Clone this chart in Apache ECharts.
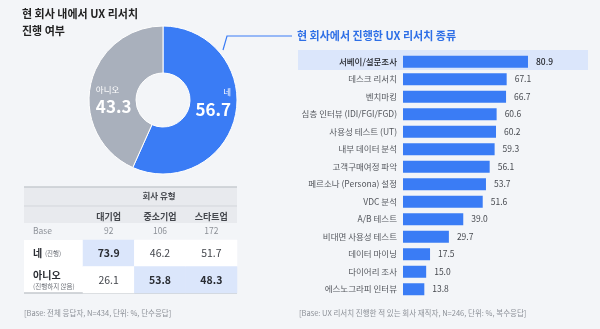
<!DOCTYPE html>
<html><head><meta charset="utf-8">
<script src="https://cdn.jsdelivr.net/npm/echarts@6/dist/echarts.min.js"></script>
<style>html,body{margin:0;padding:0;background:#f3f5f8;}#c{width:600px;height:329px;}</style>
</head><body><div id="c"></div>
<script>
var pieNames = ['네', '아니오'];
var pieValues = [56.7, 43.3];
var barCategories = ['서베이/설문조사','데스크 리서치','벤치마킹','심층 인터뷰 (IDI/FGI/FGD)','사용성 테스트 (UT)','내부 데이터 분석','고객구매여정 파악','페르소나 (Persona) 설정','VDC 분석','A/B 테스트','비대면 사용성 테스트','데이터 마이닝','다이어리 조사','에스노그라피 인터뷰'];
var barValues = [80.9, 67.1, 66.7, 60.6, 60.2, 59.3, 56.1, 53.7, 51.6, 39.0, 29.7, 17.5, 15.0, 13.8];
var tableColumns = ['대기업', '중소기업', '스타트업'];
var tableBase = [92, 106, 172];
var tableYes = [73.9, 46.2, 51.7];
var tableNo = [26.1, 53.8, 48.3];

var FONT = '"Noto Sans CJK KR", "Noto Sans", sans-serif';
var BLUE = '#3a7cf5';
var HL = '#dbe6fb';

var heatData = [];
tableColumns.forEach(function (c, i) {
  [tableYes, tableNo].forEach(function (arr, r) {
    var hi = arr[i] > pieValues[r];
    heatData.push({
      value: [i, r, arr[i]],
      itemStyle: { color: hi ? HL : '#ffffff' },
      label: { fontWeight: hi ? 'bold' : 'normal', color: hi ? '#2a2d33' : '#44474d' }
    });
  });
});

var tblLeft = 83, tblRight = 237, colW = (tblRight - tblLeft) / 3;
var graphics = [
  { type: 'rect', shape: { x: 298, y: 50, width: 290, height: 20 }, style: { fill: HL }, z: -10 },
  { type: 'rect', shape: { x: 24, y: 187, width: 213, height: 36 }, style: { fill: '#e8eaee' }, z: -10 },
  { type: 'rect', shape: { x: 24, y: 240, width: 213, height: 53 }, style: { fill: '#ffffff' }, z: -10 },
  { type: 'line', shape: { x1: 24, y1: 187, x2: 237, y2: 187 }, style: { stroke: '#c7cbd1', lineWidth: 1.5 } },
  { type: 'line', shape: { x1: 24, y1: 206, x2: 237, y2: 206 }, style: { stroke: '#d3d6db', lineWidth: 1 } },
  { type: 'line', shape: { x1: 24, y1: 293, x2: 237, y2: 293 }, style: { stroke: '#c4c8ce', lineWidth: 1.5 } },
  { type: 'polyline', shape: { points: [[223, 50], [227, 36], [292, 36]] }, style: { stroke: BLUE, lineWidth: 1.2, fill: null } },
  { type: 'text', x: 22, y: 14, style: { text: '현 회사 내에서 UX 리서치', font: 'bold 11px ' + FONT, fill: '#222', textVerticalAlign: 'middle' } },
  { type: 'text', x: 22, y: 31, style: { text: '진행 여부', font: 'bold 11px ' + FONT, fill: '#222', textVerticalAlign: 'middle' } },
  { type: 'text', x: 297, y: 36, style: { text: '현 회사에서 진행한 UX 리서치 종류', font: 'bold 11px ' + FONT, fill: '#2e6fe6', textVerticalAlign: 'middle' } },
  { type: 'text', x: 159, y: 196, style: { text: '회사 유형', font: 'bold 8.5px ' + FONT, fill: '#474a50', textAlign: 'center', textVerticalAlign: 'middle' } },
  { type: 'text', x: 33, y: 231, style: { text: 'Base', font: '8.5px ' + FONT, fill: '#8d9198', textVerticalAlign: 'middle' } },
  { type: 'text', x: 24, y: 313, style: { text: '[Base: 전체 응답자, N=434, 단위: %, 단수응답]', font: '7.5px ' + FONT, fill: '#8d9198', textVerticalAlign: 'middle' } },
  { type: 'text', x: 299, y: 313, style: { text: '[Base: UX 리서치 진행한 적 있는 회사 재직자, N=246, 단위: %, 복수응답]', font: '7.5px ' + FONT, fill: '#8d9198', textVerticalAlign: 'middle' } }
];
tableBase.forEach(function (b, i) {
  graphics.push({ type: 'text', x: tblLeft + colW * (i + 0.5), y: 231, style: { text: String(b), font: '8.5px ' + FONT, fill: '#8d9198', textAlign: 'center', textVerticalAlign: 'middle' } });
});

var chart = echarts.init(document.getElementById('c'), null, { renderer: 'canvas' });
chart.setOption({
  backgroundColor: '#f3f5f8',
  animation: false,
  textStyle: { fontFamily: FONT },
  graphic: graphics,
  grid: [
    { left: 403, top: 53, width: 154.5, height: 245 },
    { left: tblLeft, top: 240, width: tblRight - tblLeft, height: 53 }
  ],
  xAxis: [
    { type: 'value', gridIndex: 0, min: 0, max: 100, show: false },
    { type: 'category', gridIndex: 1, data: tableColumns, position: 'top',
      axisLine: { show: false }, axisTick: { show: false }, splitLine: { show: false },
      axisLabel: { margin: 19, fontSize: 9, fontWeight: 'bold', color: '#44474d' } }
  ],
  yAxis: [
    { type: 'category', gridIndex: 0, data: barCategories, inverse: true,
      axisLine: { show: false }, axisTick: { show: false },
      axisLabel: { margin: 6, fontSize: 8.5, color: '#55585e',
        formatter: function (v, i) { return i === 0 ? '{f|' + v + '}' : v; },
        rich: { f: { fontSize: 8.5, color: '#1f2126', fontWeight: 500 } } } },
    { type: 'category', gridIndex: 1, data: ['네', '아니오'], inverse: true,
      axisLine: { show: false }, axisTick: { show: false },
      axisLabel: { align: 'left', margin: 50,
        formatter: function (v, i) { return i === 0 ? '{a|네} {s|(진행)}' : '{a|아니오}\n{s|(진행하지 않음)}'; },
        rich: { a: { fontSize: 10, fontWeight: 'bold', color: '#2a2d33', lineHeight: 13 },
                s: { fontSize: 6.5, color: '#6a6e75', lineHeight: 10 } } } }
  ],
  series: [
    { type: 'pie', center: [163, 100], radius: [27, 74], startAngle: 90, clockwise: true,
      itemStyle: { borderColor: '#ffffff', borderWidth: 1 },
      label: { position: 'inside', color: '#fff',
        formatter: function (p) {
          return p.dataIndex === 0 ? '{n|' + p.name + '}\n{v|' + p.value + '}' : '{n2|' + p.name + '}\n{v|' + p.value + '}';
        },
        rich: { n: { fontSize: 8.5, color: '#fff', align: 'right', lineHeight: 14 },
                n2: { fontSize: 8.5, color: '#fff', align: 'left', lineHeight: 14 },
                v: { fontSize: 17, fontWeight: 'bold', color: '#fff', lineHeight: 20 } } },
      labelLine: { show: false },
      data: pieNames.map(function (n, i) {
        return { name: n, value: pieValues[i], itemStyle: { color: i === 0 ? BLUE : '#a9b0bc' },
          label: { padding: i === 0 ? [0, 4, 18, 0] : [22, 0, 0, 6] } };
      })
    },
    { type: 'bar', xAxisIndex: 0, yAxisIndex: 0, barWidth: 12,
      itemStyle: { color: BLUE },
      label: { show: true, position: 'right', distance: 8, fontSize: 8.5, color: '#484b51',
        formatter: function (p) { return p.value.toFixed(1); } },
      data: barValues.map(function (v, i) {
        return i === 0 ? { value: v, label: { color: '#1f2126', fontWeight: 500 } } : v;
      })
    },
    { type: 'heatmap', xAxisIndex: 1, yAxisIndex: 1,
      label: { show: true, fontSize: 10.5, formatter: function (p) { return p.value[2].toFixed(1); } },
      data: heatData
    }
  ]
});
</script></body></html>
